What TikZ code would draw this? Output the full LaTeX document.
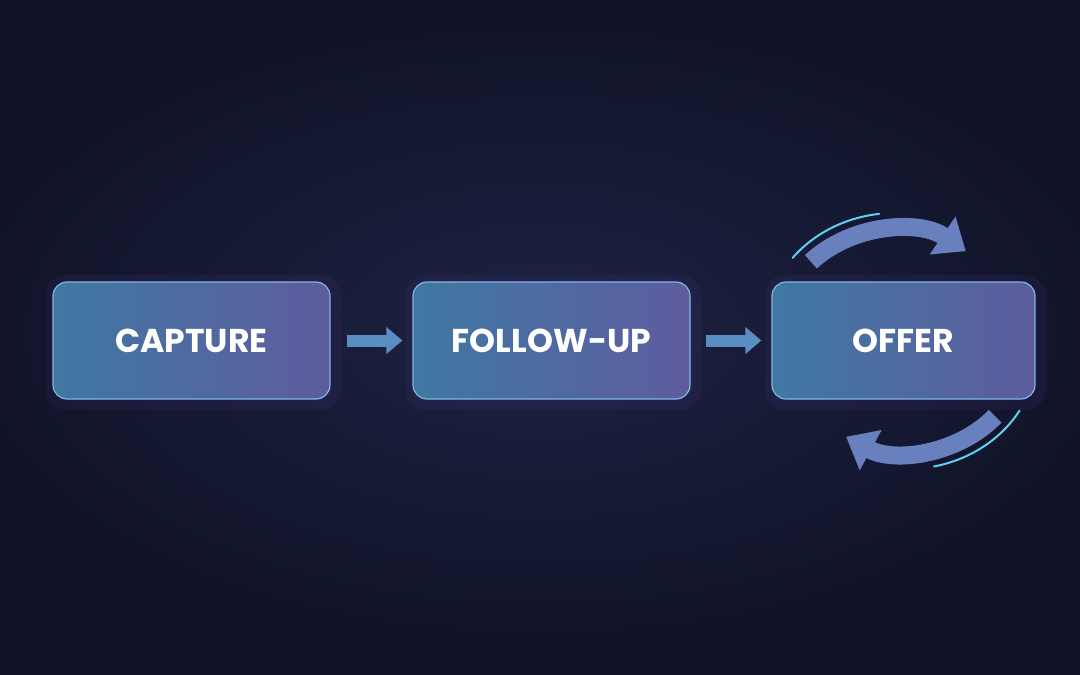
\documentclass[tikz,border=0pt]{standalone}
\usepackage{fontspec}
\setmainfont{Poppins}
\usetikzlibrary{arrows.meta}
\definecolor{bg}{HTML}{0F1226}
\definecolor{bgmid}{HTML}{1E2344}
\definecolor{bxl}{HTML}{3F78A3}
\definecolor{bxr}{HTML}{5E5C9E}
\definecolor{edge}{HTML}{7FB8E0}
\definecolor{glowc}{HTML}{7A4FD0}
\definecolor{cyanl}{HTML}{5FD0F0}
\definecolor{arr}{HTML}{5A8EC2}
\definecolor{arr2}{HTML}{6880BE}
\tikzset{
  stage/.style={rounded corners=14pt, minimum width=277pt, minimum height=117pt,
    left color=bxl, right color=bxr, draw=edge, line width=1.2pt,
    text=white, font=\bfseries\fontsize{33}{34}\selectfont},
  glow/.style={rounded corners=20pt, fill=glowc, opacity=0.08, minimum width=295pt, minimum height=135pt},
  flowarrow/.style={line width=12pt, draw=arr, -{Triangle[length=16pt,width=26pt]}},
  looparrow/.style={line width=18pt, draw=arr2, -{Triangle[length=28pt,width=44pt]}},
  rim/.style={line width=2pt, draw=cyanl, line cap=round}
}
\begin{document}
\begin{tikzpicture}[x=1pt,y=-1pt]
\fill[bg] (0,0) rectangle (1080,675);
\useasboundingbox (0,0) rectangle (1080,675);
\shade[inner color=bgmid, outer color=bg] (540,330) ellipse (620 and 330);
\node[glow] at (193.5,342.5) {};
\node[glow] at (553.5,342.5) {};
\node[glow, minimum width=281pt] at (905.5,342.5) {};
\node[stage] (cap) at (191.5,340.5) {CAPTURE};
\node[stage] (fol) at (551.5,340.5) {FOLLOW-UP};
\node[stage, minimum width=263pt] (off) at (903.5,340.5) {OFFER};
\draw[flowarrow] (cap.east) ++(16,0) coordinate (a1) -- ([xshift=-10pt]fol.west);
\draw[flowarrow] (fol.east) ++(15,0) coordinate (a2) -- ([xshift=-10pt]off.west);
\coordinate (ct) at (895,330);
\coordinate (cb) at (907,352);
\draw[looparrow] (ct) ++(-137:115 and 100) arc[start angle=-137,end angle=-52,x radius=115,y radius=100];
\draw[looparrow] (cb) ++(40:115 and 100) arc[start angle=40,end angle=122,x radius=115,y radius=100];
\draw[rim] (ct) ++(-142:130 and 117) arc[start angle=-142,end angle=-97,x radius=130,y radius=117];
\draw[rim] (cb) ++(30:130 and 117) arc[start angle=30,end angle=78,x radius=130,y radius=117];
\end{tikzpicture}
\end{document}
